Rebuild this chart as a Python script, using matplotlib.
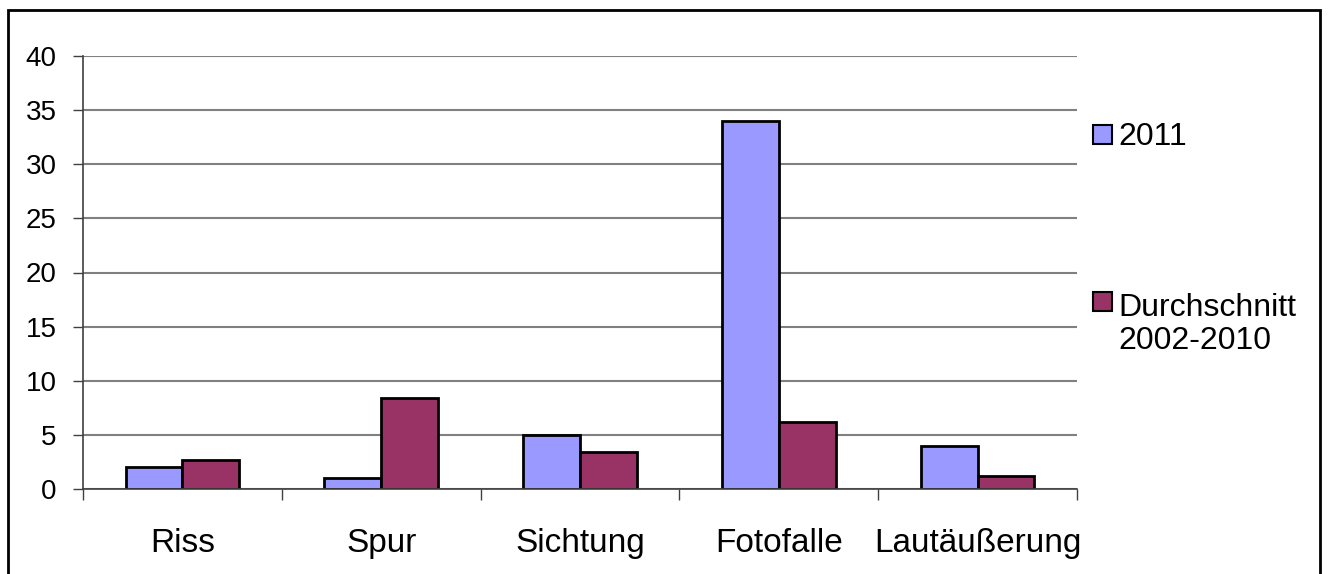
import matplotlib
matplotlib.use("Agg")
import matplotlib.pyplot as plt
import numpy as np
from matplotlib.patches import Rectangle

categories = ["Riss", "Spur", "Sichtung", "Fotofalle", "Lautäußerung"]
series_names = ["2011", "Durchschnitt\n2002-2010"]
values_2011 = [2, 1, 5, 34, 4]
values_avg = [2.7, 8.4, 3.4, 6.2, 1.2]
colors = ["#9999FF", "#993366"]

plt.rcParams["font.family"] = ["Liberation Sans", "DejaVu Sans"]

W, H = 1328, 574
fig = plt.figure(figsize=(W / 100, H / 100), dpi=100)
ax = fig.add_axes([83 / W, 1 - 489 / H, (1077 - 83) / W, (489 - 56) / H])

x = np.arange(len(categories))
w = 1 / 3.5
ax.bar(x - w / 2, values_2011, w, color=colors[0], edgecolor="black", linewidth=2)
ax.bar(x + w / 2, values_avg, w, color=colors[1], edgecolor="black", linewidth=2)

ax.set_xlim(-0.5, len(categories) - 0.5)
ax.set_ylim(0, 40)
ax.set_yticks(range(0, 41, 5))
ax.yaxis.grid(True, color="#808080", linewidth=1.5)
ax.set_axisbelow(True)
ax.set_xticks(np.arange(len(categories) + 1) - 0.5)
ax.set_xticklabels([])
ax.set_xticks(x, minor=True)
ax.set_xticklabels(categories, minor=True, fontsize=24)
ax.tick_params(axis="x", which="minor", length=0, pad=28)
ax.tick_params(axis="x", which="major", length=8, direction="out", width=1, color="#404040")
ax.tick_params(axis="y", length=7, width=1, color="#404040", labelsize=20, pad=12)
for s in ["top", "right"]:
    ax.spines[s].set_visible(False)
for s in ["left", "bottom"]:
    ax.spines[s].set_color("#404040")
    ax.spines[s].set_linewidth(1.2)

# legend drawn by hand to match the spacing of the original
marker_y = [134, 301]
line_step = 37
for name, c, ym in zip(series_names, colors, marker_y):
    fig.patches.append(Rectangle((1093 / W, 1 - (ym + 9.5) / H), 19 / W, 19 / H,
                                 transform=fig.transFigure, facecolor=c,
                                 edgecolor="black", linewidth=1.5))
    last_base = ym + 11 + line_step * name.count("\n")
    fig.text(1118 / W, 1 - last_base / H, name, fontsize=23, va="baseline",
             ha="left", linespacing=1.15)

# outer chart border
fig.patches.append(Rectangle((8 / W, -0.05), (1320 - 8) / W, 1.05 - 10 / H,
                             transform=fig.transFigure, fill=False,
                             edgecolor="black", linewidth=2))

fig.savefig("out.png", dpi=100)
